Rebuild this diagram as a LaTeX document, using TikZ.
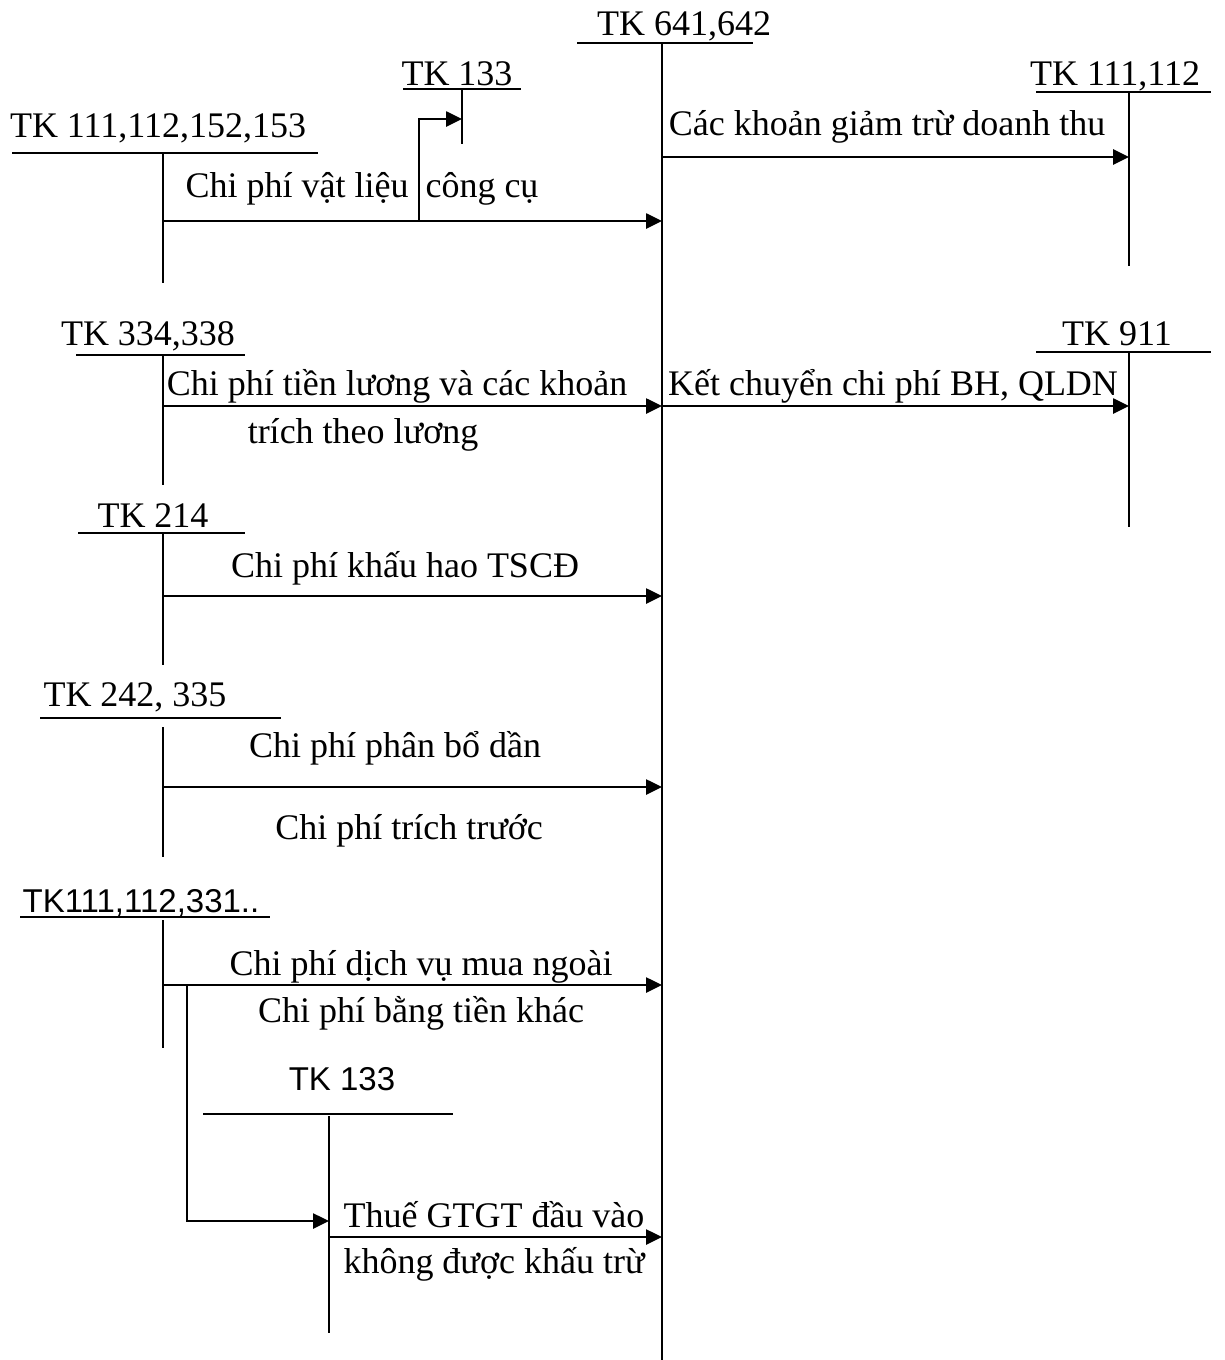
\documentclass[tikz,border=0pt]{standalone}
\usepackage{fontspec}
\setmainfont{Liberation Serif}
\newfontfamily\arialfont{Liberation Sans}
\usetikzlibrary{arrows.meta,positioning}

\begin{document}
\begin{tikzpicture}[x=1pt,y=-1pt,
  acc/.style={line width=1.6pt},
  flow/.style={line width=2.6pt,-{Triangle[length=16pt,width=15pt]}},
  lbl/.style={font=\fontsize{36}{40}\selectfont, inner sep=0pt, anchor=base},
  albl/.style={font=\arialfont\fontsize{33}{38}\selectfont, inner sep=0pt, anchor=base}]
\useasboundingbox (0,0) rectangle (1224,1360);
% TK 641,642
\coordinate (m1) at (577,43); \coordinate (m2) at (753,43);
\coordinate (mt) at (662,43); \coordinate (mb) at (662,1360);
\draw[acc] (m1) -- (m2);
\draw[acc] (mt) -- (mb);
\node[lbl] (mlbl) at (684,35) {TK 641,642};
% TK 111,112,152,153
\coordinate (a1) at (12,153); \coordinate (a2) at (318,153);
\coordinate (at) at (163,153); \coordinate (ab) at (163,283);
\draw[acc] (a1) -- (a2);
\draw[acc] (at) -- (ab);
\node[lbl] (albl) at (158,137) {TK 111,112,152,153};
\coordinate (ap) at (163,221);
\draw[flow] (ap) -- (ap -| mt);
\node[lbl] (vatlieu) at (297,197) {Chi phí vật liệu};
\node[lbl] (congcu) at (482,197) {công cụ};
% TK 133
\coordinate (b1) at (403,89); \coordinate (b2) at (521,89);
\coordinate (bt) at (462,89); \coordinate (bb) at (462,144);
\draw[acc] (b1) -- (b2);
\draw[acc] (bt) -- (bb);
\node[lbl] (blbl) at (457,85) {TK 133};
\coordinate (bs) at (419,221); \coordinate (bk) at (419,119);
\draw[flow] (bs) -- (bk) -- (bk -| bt);
% TK 111,112 (right)
\coordinate (c1) at (1036,92); \coordinate (c2) at (1211,92);
\coordinate (ct) at (1129,92); \coordinate (cb) at (1129,266);
\draw[acc] (c1) -- (c2);
\draw[acc] (ct) -- (cb);
\node[lbl] (clbl) at (1115,85) {TK 111,112};
\coordinate (cp) at (662,157);
\draw[flow] (cp) -- (cp -| ct);
\node[lbl] (giamtru) at (887,135) {Các khoản giảm trừ doanh thu};
% TK 334,338
\coordinate (d1) at (76,355); \coordinate (d2) at (245,355);
\coordinate (dt) at (163,355); \coordinate (db) at (163,485);
\draw[acc] (d1) -- (d2);
\draw[acc] (dt) -- (db);
\node[lbl] (dlbl) at (148,345) {TK 334,338};
\coordinate (dp) at (163,406);
\draw[flow] (dp) -- (dp -| mt);
\node[lbl] (luong1) at (397,395) {Chi phí tiền lương và các khoản};
\node[lbl] (luong2) at (363,443) {trích theo lương};
% TK 911
\coordinate (e1) at (1036,352); \coordinate (e2) at (1211,352);
\coordinate (et) at (1129,352); \coordinate (eb) at (1129,527);
\draw[acc] (e1) -- (e2);
\draw[acc] (et) -- (eb);
\node[lbl] (elbl) at (1117,345) {TK 911};
\coordinate (ep) at (662,406);
\draw[flow] (ep) -- (ep -| et);
\node[lbl] (ketchuyen) at (893,395) {Kết chuyển chi phí BH, QLDN};
% TK 214
\coordinate (f1) at (78,533); \coordinate (f2) at (245,533);
\coordinate (ft) at (163,533); \coordinate (fb) at (163,665);
\draw[acc] (f1) -- (f2);
\draw[acc] (ft) -- (fb);
\node[lbl] (flbl) at (153,527) {TK 214};
\coordinate (fp) at (163,596);
\draw[flow] (fp) -- (fp -| mt);
\node[lbl] (khauhao) at (405,577) {Chi phí khấu hao TSCĐ};
% TK 242, 335
\coordinate (g1) at (40,718); \coordinate (g2) at (281,718);
\coordinate (gt) at (163,727); \coordinate (gb) at (163,857);
\draw[acc] (g1) -- (g2);
\draw[acc] (gt) -- (gb);
\node[lbl] (glbl) at (135,706) {TK 242, 335};
\coordinate (gp) at (163,787);
\draw[flow] (gp) -- (gp -| mt);
\node[lbl] (phanbo) at (395,757) {Chi phí phân bổ dần};
\node[lbl] (trichtruoc) at (409,839) {Chi phí trích trước};
% TK111,112,331..
\coordinate (h1) at (20,917); \coordinate (h2) at (270,917);
\coordinate (ht) at (163,920); \coordinate (hb) at (163,1048);
\draw[acc] (h1) -- (h2);
\draw[acc] (ht) -- (hb);
\node[albl] (hlbl) at (141,912) {TK111,112,331..};
\coordinate (hp) at (163,985);
\draw[flow] (hp) -- (hp -| mt);
\node[lbl] (dichvu) at (421,975) {Chi phí dịch vụ mua ngoài};
\node[lbl] (bangtien) at (421,1022) {Chi phí bằng tiền khác};
% TK 133 (thue GTGT)
\coordinate (i1) at (203,1114); \coordinate (i2) at (453,1114);
\coordinate (it) at (329,1116); \coordinate (ib) at (329,1333);
\draw[acc] (i1) -- (i2);
\draw[acc] (it) -- (ib);
\node[albl] (ilbl) at (342,1090) {TK 133};
\coordinate (hs) at (187,985); \coordinate (hk) at (187,1221);
\draw[flow] (hs) -- (hk) -- (hk -| it);
\coordinate (ip) at (329,1237);
\draw[flow] (ip) -- (ip -| mt);
\node[lbl] (thue1) at (494,1227) {Thuế GTGT đầu vào};
\node[lbl] (thue2) at (494,1273) {không được khấu trừ};
\end{tikzpicture}
\end{document}
